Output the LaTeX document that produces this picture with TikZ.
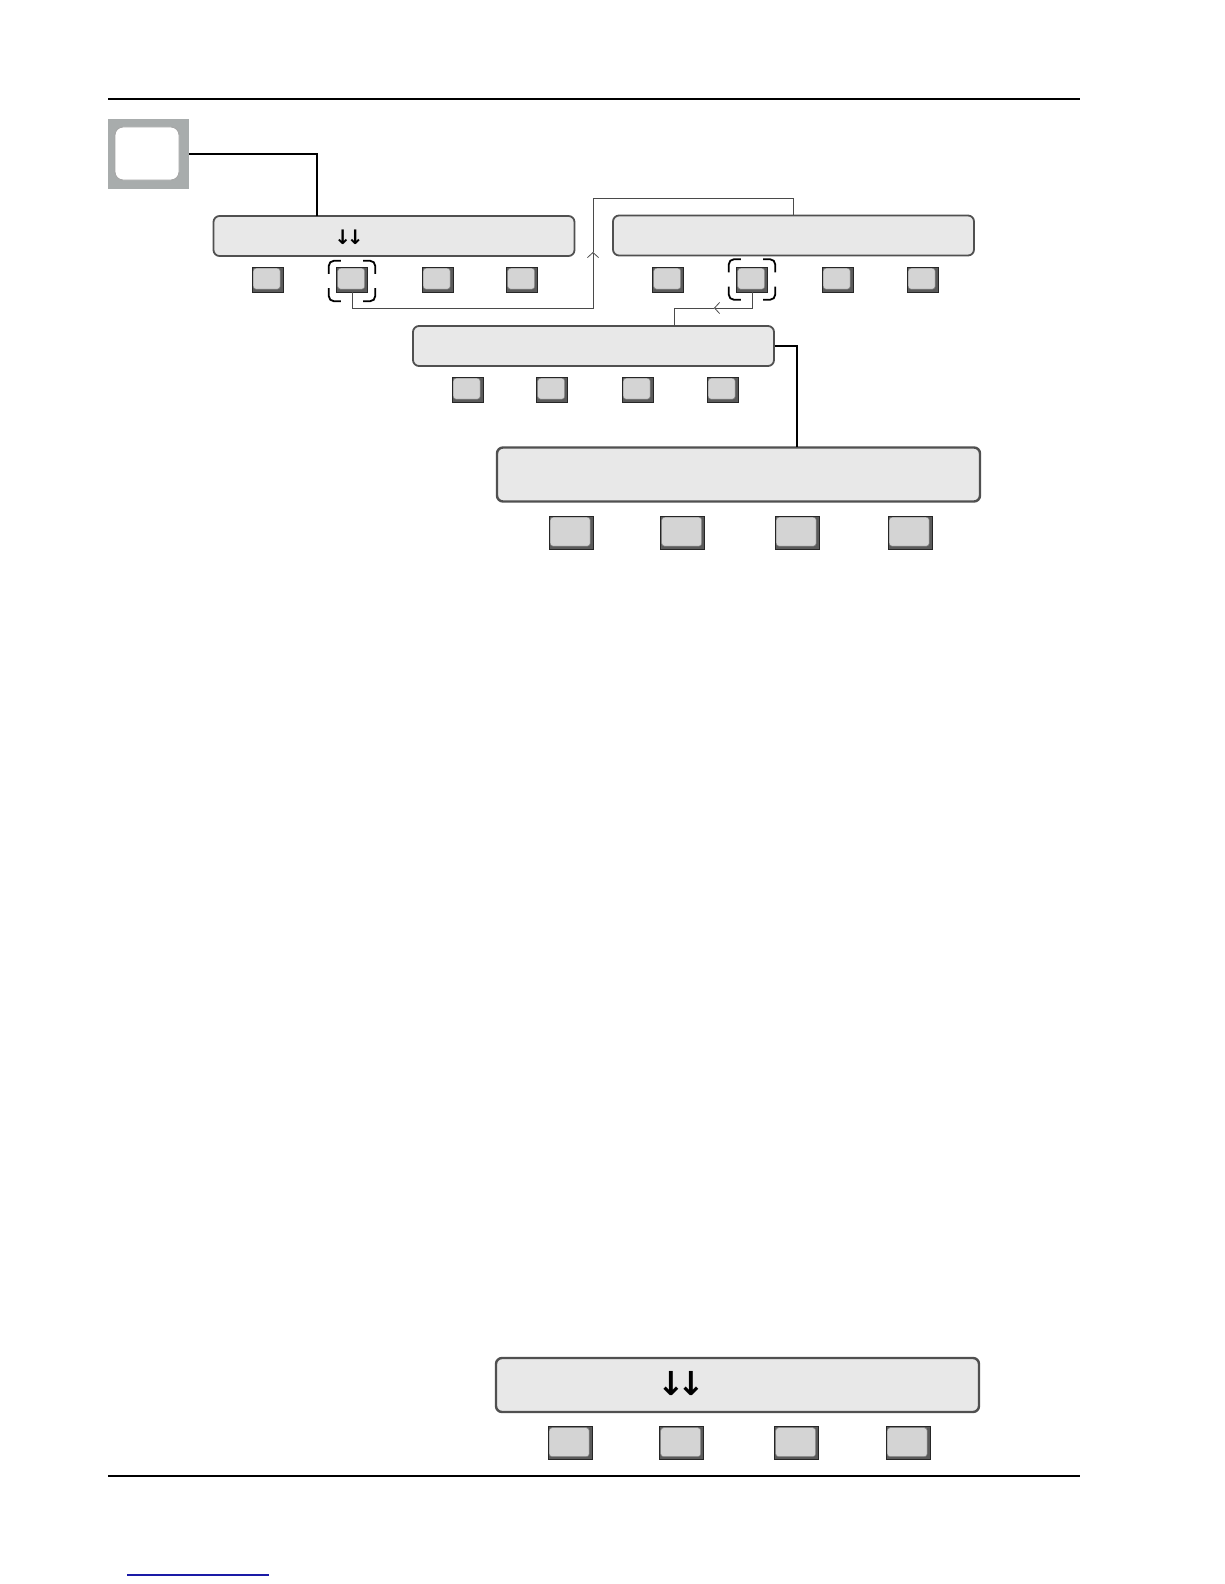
\documentclass[tikz,border=0pt]{standalone}
\usepackage{fontspec}
\usepackage{tikz}
\usetikzlibrary{arrows.meta}
\newfontfamily\arrowfont{DejaVu Sans}
\definecolor{panelfill}{HTML}{E8E8E8}
\definecolor{paneledge}{HTML}{505050}
\definecolor{keygrey}{HTML}{A8ACAC}
\definecolor{btnface}{HTML}{D4D4D4}
\definecolor{btnshade}{HTML}{5A5A5A}
\definecolor{linkgrey}{HTML}{4A4A4A}
\definecolor{urlblue}{HTML}{1A1AA6}
\newcommand{\selmark}[1]{%
  \draw[brk] ([xshift=12pt]#1.north west) -| ([yshift=-13pt]#1.north west);
  \draw[brk] ([xshift=-12pt]#1.north east) -| ([yshift=-13pt]#1.north east);
  \draw[brk] ([xshift=12pt]#1.south west) -| ([yshift=13pt]#1.south west);
  \draw[brk] ([xshift=-12pt]#1.south east) -| ([yshift=13pt]#1.south east);}

\begin{document}
\begin{tikzpicture}[x=1pt,y=-1pt,
    panel/.style={rounded corners=6pt,draw=paneledge,line width=1.8pt,fill=panelfill,
                  inner sep=0pt,minimum width=361pt,minimum height=40pt},
    bigpanel/.style={panel,line width=2.4pt,minimum width=483pt,minimum height=54pt},
    btn/.style={draw=black!85,line width=0.7pt,fill=btnshade,inner sep=0pt,
                minimum width=31pt,minimum height=25pt,
                path picture={\draw[draw=black!50,line width=0.5pt,fill=btnface,rounded corners=3pt]
                  ([shift={(1.2pt,-1.2pt)}]path picture bounding box.north west) rectangle
                  ([shift={(-2.8pt,2.8pt)}]path picture bounding box.south east);}},
    bigbtn/.style={btn,minimum width=44pt,minimum height=33pt},
    keybox/.style={fill=keygrey,inner sep=0pt,minimum width=81pt,minimum height=70pt,
                path picture={\draw[draw=black!35,line width=0.9pt,fill=white,rounded corners=8pt]
                  ([shift={(7pt,-8pt)}]path picture bounding box.north west) rectangle
                  ([shift={(-10pt,9pt)}]path picture bounding box.south east);}},
    selbox/.style={inner sep=0pt,minimum width=46pt,minimum height=40pt},
    brk/.style={black,line width=1.8pt,rounded corners=5pt},
    wire/.style={black,line width=1.1pt},
    link/.style={linkgrey,line width=0.8pt},
    tip/.style={-{Straight Barb[length=5pt,width=11pt,line width=0.8pt]}}]
  \useasboundingbox (0,0) rectangle (1224,1584);
  \draw[line width=1.2pt] (108,99) -- (1080,99);
  \draw[line width=1.2pt] (108,1476) -- (1080,1476);
  \draw[urlblue,line width=1.2pt] (127,1575) -- (269,1575);

  \node[keybox] (key) at (148.5,154) {};

  \node[panel] (menu1) at (394,236) {};
  \node[font=\arrowfont\bfseries\fontsize{20}{24}\selectfont] (dn1) at (349,237) {↓\kern-4.5pt↓};
  \node[panel] (menu2) at (793.5,235.5) {};
  \node[panel] (menu3) at (593.5,346) {};
  \node[bigpanel] (menu4) at (738.5,474.5) {};
  \node[bigpanel] (menu5) at (737.5,1385) {};
  \node[font=\arrowfont\bfseries\fontsize{33}{38}\selectfont] (dn5) at (681,1384) {↓\kern-7.5pt↓};

  \foreach \x [count=\i] in {267.5,352,437.5,522}
    \node[btn] (ra\i) at (\x,279.5) {};
  \foreach \x [count=\i] in {668,752,837.5,922.5}
    \node[btn] (rb\i) at (\x,279.5) {};
  \foreach \x [count=\i] in {467.5,552,637.5,722.5}
    \node[btn] (rc\i) at (\x,389.5) {};
  \foreach \x [count=\i] in {571,682.5,797,910}
    \node[bigbtn] (rd\i) at (\x,532.5) {};
  \foreach \x [count=\i] in {570,681.5,796.5,908}
    \node[bigbtn] (re\i) at (\x,1443) {};

  \node[selbox] (sela) at (352,281) {};
  \node[selbox] (selb) at (752,279.5) {};
  \selmark{sela}
  \selmark{selb}

  \coordinate (in1) at (317,216);
  \coordinate (bendA) at (593,308);
  \coordinate (upA) at (593,252);
  \coordinate (topA) at (593,198);
  \coordinate (bendB) at (752,308);
  \coordinate (leftB) at (714,308);
  \coordinate (in3) at (674,326);
  \coordinate (in4) at (797,447);

  \draw[wire] (key.east) -| (in1);
  \draw[link,tip] (ra2.south) |- (bendA) -- (upA);
  \draw[link] (upA) -- (topA) -| (menu2.north);
  \draw[link,tip] (rb2.south) -- (bendB) -- (leftB);
  \draw[link] (leftB) -| (in3);
  \draw[wire] (menu3.east) -| (in4);
\end{tikzpicture}
\end{document}
